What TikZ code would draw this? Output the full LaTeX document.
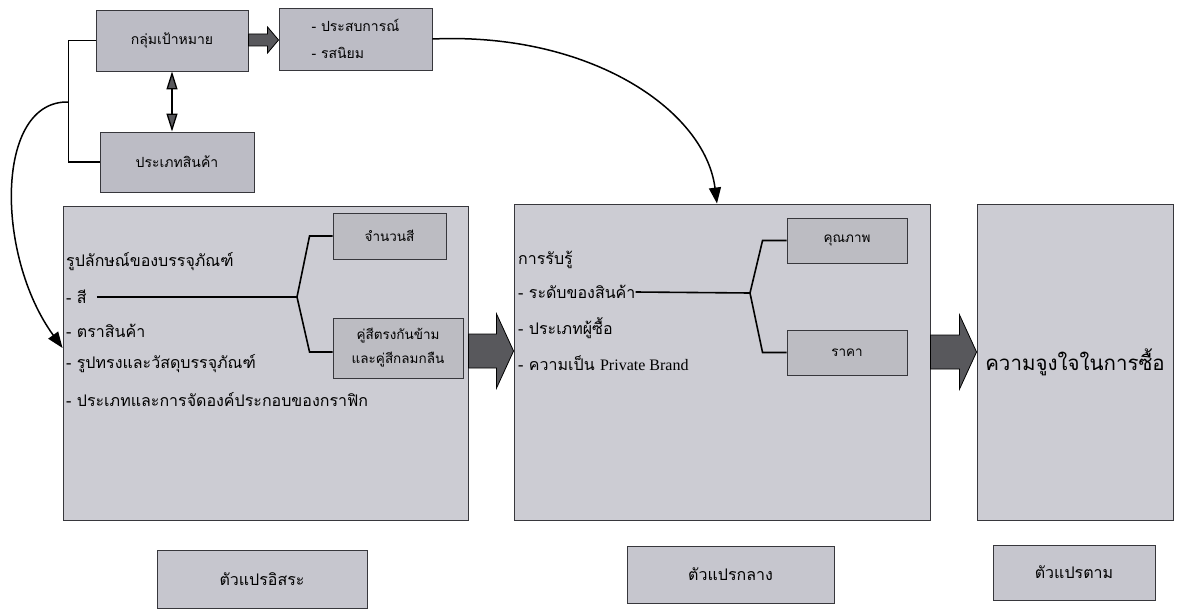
\documentclass[tikz,border=0pt]{standalone}
\usepackage{fontspec}
\newfontfamily\thai[Script=Thai]{Loma}
\newfontfamily\latin{Liberation Serif}
\usetikzlibrary{arrows.meta,calc}
\definecolor{boxfill}{RGB}{188,188,197}
\definecolor{bigfill}{RGB}{204,204,211}
\definecolor{arrowfill}{RGB}{88,88,92}
\definecolor{edgecol}{RGB}{55,55,60}
\newcommand\blockarr[5]{%
  \filldraw[fill=arrowfill,draw=black,line width=0.8pt,line join=miter]
    ($(#1)+(0,-#3)$) -- ($(#2)+(-#5,-#3)$) -- ($(#2)+(-#5,-#4)$) -- (#2) --
    ($(#2)+(-#5,#4)$) -- ($(#2)+(-#5,#3)$) -- ($(#1)+(0,#3)$) -- cycle;}
\begin{document}
\begin{tikzpicture}[x=1pt,y=-1pt,
  smallbox/.style={draw=edgecol,line width=0.9pt,fill=boxfill,inner sep=2pt,
    font=\thai\fontsize{14}{27}\selectfont},
  bigbox/.style={draw=edgecol,line width=0.9pt,fill=bigfill},
  inbox/.style={draw=edgecol,line width=0.9pt,fill=bigfill!92!black,inner sep=2pt,
    font=\thai\fontsize{13.5}{24}\selectfont},
  labelbox/.style={draw=edgecol,line width=0.9pt,fill=boxfill!85!white,
    font=\thai\fontsize{16}{18}\selectfont},
  item/.style={anchor=west,inner sep=0pt,font=\thai\fontsize{16}{18}\selectfont},
  wire/.style={draw=black,line width=1.6pt},
  curvearrow/.style={draw=black,line width=1.5pt,-{Triangle[length=16pt,width=12pt]}},
  dblarrow/.style={draw=black,line width=1.3pt,{Triangle[length=18pt,width=11pt,fill=arrowfill]}-{Triangle[length=18pt,width=11pt,fill=arrowfill]}}
]
\useasboundingbox (0,0) rectangle (1180,610);

% top boxes
\node[smallbox,minimum width=152,minimum height=61] (tg) at (172,40.5) {กลุ่มเป้าหมาย};
\node[smallbox,minimum width=153,minimum height=62,align=left] (exp) at (355.5,39) {- ประสบการณ์\\- รสนิยม};
\node[smallbox,minimum width=154,minimum height=60] (pt) at (177,162) {ประเภทสินค้า};

% big boxes
\node[bigbox,minimum width=405,minimum height=314] (L) at (265.5,363) {};
\node[bigbox,minimum width=416,minimum height=316] (M) at (722,362) {};
\node[bigbox,minimum width=196,minimum height=316,inner sep=0pt,font=\thai\fontsize{20.5}{22}\selectfont] (R) at (1075,362) {ความจูงใจในการซื้อ};

% inner boxes
\node[inbox,minimum width=113,minimum height=46] (cnt) at (389.5,236) {จำนวนสี};
\node[inbox,minimum width=130,minimum height=60,align=center] (opp) at (398,348) {คู่สีตรงกันข้าม\\และคู่สีกลมกลืน};
\node[inbox,minimum width=120,minimum height=45] (q) at (847,240.5) {คุณภาพ};
\node[inbox,minimum width=120,minimum height=45] (pr) at (847,352.5) {ราคา};

% left box text
\node[item] (l0) at (66,262) {รูปลักษณ์ของบรรจุภัณฑ์};
\node[item] (s1) at (66,297) {- สี};
\node[item] (l2) at (66,331) {- ตราสินค้า};
\node[item] (l3) at (66,364) {- รูปทรงและวัสดุบรรจุภัณฑ์};
\node[item] (l4) at (66,400) {- ประเภทและการจัดองค์ประกอบของกราฟิก};

% middle box text
\node[item] (m0) at (518,260) {การรับรู้};
\node[item] (r1) at (518,292) {- ระดับของสินค้า};
\node[item] (m2) at (518,328) {- ประเภทผู้ซื้อ};
\node[item] (m3) at (518,363) {- ความเป็น {\latin Private Brand}};

% bottom labels
\node[labelbox,minimum width=210,minimum height=58] (b1) at (262,579) {ตัวแปรอิสระ};
\node[labelbox,minimum width=207,minimum height=57] (b2) at (730.5,574.5) {ตัวแปรกลาง};
\node[labelbox,minimum width=162,minimum height=55] (b3) at (1074,572.5) {ตัวแปรตาม};

% branch lines
\coordinate (j1) at (297,297);
\draw[wire] ($(s1.east)+(10,0)$) -- (j1);
\draw[wire] (j1) -- ($(cnt.west)+(-23,0)$) -- (cnt.west);
\draw[wire] (j1) -- ($(opp.west)+(-23,4)$) -- ($(opp.west)+(0,4)$);
\coordinate (j2) at (750,293);
\draw[wire] (r1.east) -- (j2);
\draw[wire] (j2) -- ($(q.west)+(-24,0)$) -- (q.west);
\draw[wire] (j2) -- ($(pr.west)+(-24,0)$) -- (pr.west);

% bracket
\coordinate (bx) at ($(tg.west)+(-27,0)$);
\draw[wire] (tg.west) -- (bx) |- (pt.west);
\coordinate (bc) at (bx |- 0,102);

% double arrow
\draw[dblarrow] (tg.south) -- (tg.south |- pt.north);

% block arrows
\coordinate (a1s) at (tg.east |- 0,40);
\coordinate (a1e) at (exp.west |- 0,40);
\blockarr{a1s}{a1e}{6}{13}{11}
\coordinate (a2s) at (L.east |- 0,351);
\coordinate (a2e) at (M.west |- 0,351);
\blockarr{a2s}{a2e}{17}{37}{17}
\coordinate (a3s) at (M.east |- 0,352);
\coordinate (a3e) at (R.west |- 0,352);
\blockarr{a3s}{a3e}{17}{37}{17}

% curved arrows
\path (M.north) ++(-5,0) coordinate (mt);
\draw[curvearrow] (exp.east) .. controls (590,32) and (705,110) .. (mt);
\coordinate (lt) at (L.west |- 0,348);
\draw[curvearrow] (bc) .. controls (-5,100) and (-5,255) .. (lt);
\end{tikzpicture}
\end{document}
